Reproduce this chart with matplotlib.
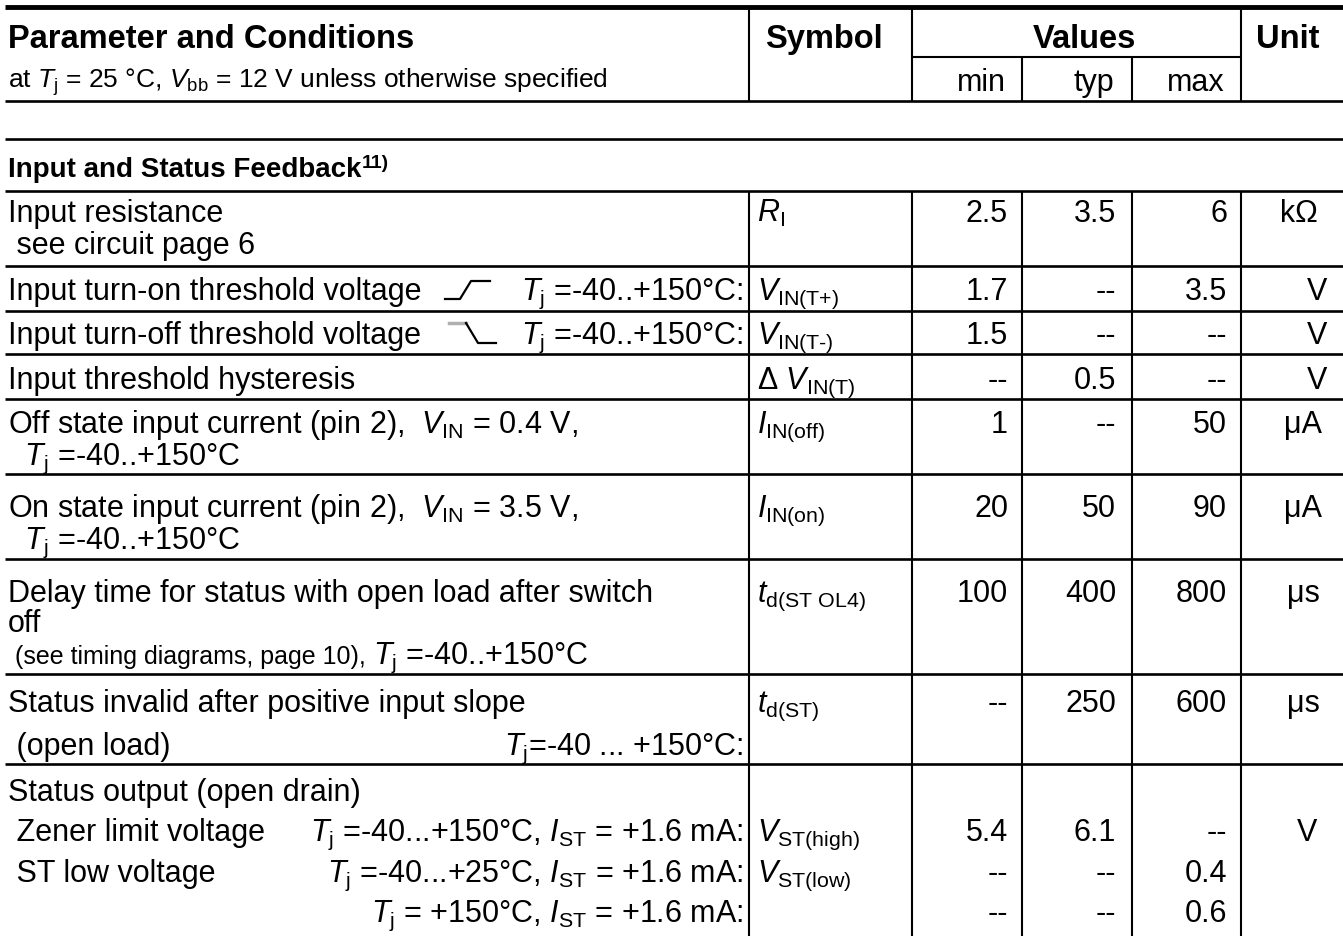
import matplotlib
matplotlib.use('Agg')
import matplotlib.pyplot as plt

plt.rcParams['font.family'] = 'Liberation Sans'
plt.rcParams['mathtext.fontset'] = 'custom'
plt.rcParams['mathtext.rm'] = 'Liberation Sans'
plt.rcParams['mathtext.it'] = 'Liberation Sans:italic'
plt.rcParams['mathtext.bf'] = 'Liberation Sans:bold'

TJ = r'$T_{\rm j}$'
IST = r'$I_{\rm ST}$'

# ---- table content ----
col_headers = ['Symbol', 'Values', 'Unit']
sub_headers = ['min', 'typ', 'max']
section_title = 'Input and Status Feedback'

# parameter text: each row is a list of (left text, right-aligned condition)
param_text = [
    [('Input resistance', ''), (' see circuit page 6', '')],
    [('Input turn-on threshold voltage', TJ + ' =-40..+150°C:')],
    [('Input turn-off threshold voltage', TJ + ' =-40..+150°C:')],
    [('Input threshold hysteresis', '')],
    [(r'Off state input current (pin 2),  $V_{\rm IN}$ = 0.4 V,', ''), ('  ' + TJ + ' =-40..+150°C', '')],
    [(r'On state input current (pin 2),  $V_{\rm IN}$ = 3.5 V,', ''), ('  ' + TJ + ' =-40..+150°C', '')],
    [('Delay time for status with open load after switch', ''), ('off', ''), ('', '')],
    [('Status invalid after positive input slope', ''), (' (open load)', TJ + '=-40 ... +150°C:')],
    [('Status output (open drain)', ''),
     (' Zener limit voltage', TJ + ' =-40...+150°C, ' + IST + ' = +1.6 mA:'),
     (' ST low voltage', TJ + ' =-40...+25°C, ' + IST + ' = +1.6 mA:'),
     ('', TJ + ' = +150°C, ' + IST + ' = +1.6 mA:')],
]
delay_note = ' (see timing diagrams, page 10), '
delay_cond = TJ + ' =-40..+150°C'

symbols = [r'$R_{\rm I}$', r'$V_{\rm IN(T{+})}$', r'$V_{\rm IN(T\text{-})}$', r'$\Delta\ V_{\rm IN(T)}$',
           r'$I_{\rm IN(off)}$', r'$I_{\rm IN(on)}$', r'$t_{\rm d(ST\ OL4)}$', r'$t_{\rm d(ST)}$',
           r'$V_{\rm ST(high)}$', r'$V_{\rm ST(low)}$', '']
min_vals = ['2.5', '1.7', '1.5', '--', '1', '20', '100', '--', '5.4', '--', '--']
typ_vals = ['3.5', '--', '--', '0.5', '--', '50', '400', '250', '6.1', '--', '--']
max_vals = ['6', '3.5', '--', '--', '50', '90', '800', '600', '--', '0.4', '0.6']
units = ['kΩ', 'V', 'V', 'V', 'μA', 'μA', 'μs', 'μs', 'V', '', '']

# ---- layout (pixels) ----
W, H = 1343, 937
FS, FS_H, FS_T, FS_N, FS_S = 22, 23.5, 20, 19, 18
x_cols = [749, 912, 1022, 1132, 1241]
x_val_right = [1008, 1116, 1227]
unit_x = [1299, 1317, 1317, 1317, 1303, 1303, 1303, 1303, 1307, 1307, 1307]
row_lines = [267, 312, 355, 400, 475, 560, 675, 765]
row_baselines = [[222, 254], [300], [344], [389], [433, 465], [517, 549],
                 [602, 632], [712, 755], [801, 841, 882, 922]]
value_baselines = [222, 300, 344, 389, 433, 517, 602, 712, 841, 882, 922]

fig = plt.figure(figsize=(W / 100, H / 100), dpi=100)
ax = fig.add_axes([0, 0, 1, 1])
ax.set_xlim(0, W)
ax.set_ylim(H, 0)
ax.axis('off')

# horizontal rules
ax.hlines(8, 5, W, color='black', lw=3.5)
ax.hlines([102, 140, 192] + row_lines, 5, W, color='black', lw=1.9)
ax.hlines(58, x_cols[1], x_cols[4], color='black', lw=1.5)
# vertical rules
for i, x in enumerate(x_cols):
    top = 8 if i in (0, 1, 4) else 58
    ax.vlines(x, top, 102, color='black', lw=1.5)
    ax.vlines(x, 192, H, color='black', lw=1.5)

# header
ax.text(8, 48, 'Parameter and Conditions', fontsize=FS_H, fontweight='bold', va='baseline')
ax.text(8, 88, 'at ' + TJ + r' = 25 °C, $V_{\rm bb}$ = 12 V unless otherwise specified',
        fontsize=FS_N, va='baseline')
ax.text(824, 48, col_headers[0], fontsize=FS_H, fontweight='bold', ha='center', va='baseline')
ax.text(1084, 48, col_headers[1], fontsize=FS_H, fontweight='bold', ha='center', va='baseline')
ax.text(1288, 48, col_headers[2], fontsize=FS_H, fontweight='bold', ha='center', va='baseline')
for xr, s in zip(x_val_right, sub_headers):
    ax.text(xr - 2, 91, s, fontsize=FS, ha='right', va='baseline')

# section title
t = ax.text(8, 177, section_title, fontsize=FS_T, fontweight='bold', va='baseline')
ax.annotate('11)', xy=(1, 168), xycoords=(t, 'data'), fontsize=14, fontweight='bold',
            va='baseline', ha='left')

# parameter column
for lines, ys in zip(param_text, row_baselines):
    for (left, right), y in zip(lines, ys):
        if left:
            ax.text(8, y, left, fontsize=FS, va='baseline')
        if right:
            ax.text(743, y, right, fontsize=FS, va='baseline', ha='right')

# delay row, third line in smaller type
t = ax.text(8, 664, delay_note, fontsize=FS_S, va='baseline')
ax.annotate(delay_cond, xy=(1, 664), xycoords=(t, 'data'), fontsize=FS, va='baseline')

# edge symbols for threshold rows
ax.plot([445, 460, 471, 490], [300, 300, 282, 282], color='black', lw=1.6)
ax.plot([449, 466], [324, 324], color='#b0b0b0', lw=2.5)
ax.plot([466, 478, 496], [324, 344, 344], color='black', lw=1.6)

# symbol, values and units
for i, y in enumerate(value_baselines):
    ax.text(757, y, symbols[i], fontsize=FS, va='baseline')
    for xr, v in zip(x_val_right, (min_vals[i], typ_vals[i], max_vals[i])):
        ax.text(xr, y, v, fontsize=FS, ha='right', va='baseline')
    if units[i]:
        ax.text(unit_x[i], y, units[i], fontsize=FS, ha='center', va='baseline')

plt.savefig('out.png', dpi=100)
